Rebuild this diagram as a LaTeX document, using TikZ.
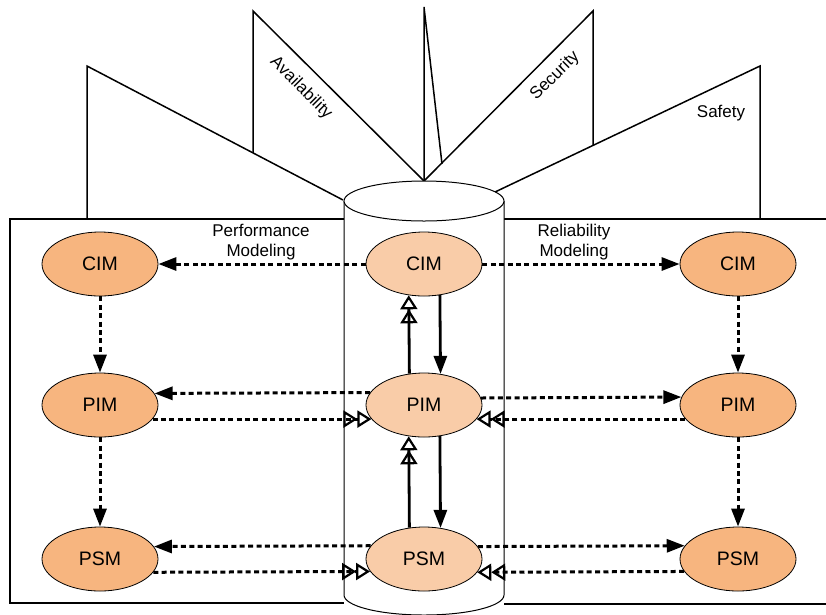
\documentclass[tikz,border=0pt]{standalone}
\usepackage{fontspec}
\setmainfont{Liberation Sans}
\usetikzlibrary{arrows.meta,shapes.geometric}
\definecolor{sideorange}{RGB}{247,181,127}
\definecolor{midorange}{RGB}{249,204,168}
\begin{document}
\begin{tikzpicture}[x=1pt,y=1pt,
  model/.style={ellipse,draw,line width=0.8pt,minimum width=116pt,minimum height=64pt,inner sep=0pt,font=\fontsize{19.5}{22}\selectfont},
  sidem/.style={model,fill=sideorange},
  midm/.style={model,fill=midorange},
  conn/.style={line width=3pt,dash pattern=on 5pt off 3.4pt},
  solidconn/.style={line width=2.8pt},
  fillhead/.style={-{Triangle[length=18pt,width=13pt]}},
  openhead/.style={-{Triangle[open,length=14pt,width=17pt,line width=2.2pt]Triangle[open,length=14pt,width=17pt,line width=2.2pt]}},
  frame/.style={line width=1.5pt},
  cyl/.style={line width=1pt},
  lbl/.style={font=\fontsize{17}{20}\selectfont,align=center}
]
\useasboundingbox (0,0) rectangle (826,-614);
% fan
\draw[frame] (87,-219) -- (87,-66) -- (343,-200);
\draw[frame] (253,-153) -- (253,-11) -- (424,-181);
\draw[frame] (424,-181) -- (424,-7) -- (442,-164);
\draw[frame] (593,-145) -- (593,-11) -- (424,-181);
\draw[frame] (760,-219) -- (760,-66) -- (495,-192);
% boxes
\draw[frame] (344,-219) -- (10,-219) -- (10,-603) -- (344,-603);
\draw[frame] (504,-219) -- (830,-219);
\draw[frame] (504,-604) -- (830,-604);
% cylinder
\draw[cyl,fill=white] (344,-201) -- (344,-595) arc[start angle=180,end angle=360,x radius=80,y radius=20] -- (504,-201);
\draw[cyl,fill=white] (424,-201) ellipse[x radius=80,y radius=20];
% labels
\node[lbl] (perf) at (261,-242) {Performance\\Modeling};
\node[lbl] (rel) at (574,-242) {Reliability\\Modeling};
\node[lbl,rotate=-45] (avail) at (301,-88) {Availability};
\node[lbl,rotate=45] (sec) at (555,-76) {Security};
\node[lbl] (safe) at (721,-113) {Safety};
% nodes
\node[sidem] (lcim) at (100,-264) {CIM};
\node[midm]  (ccim) at (424,-264) {CIM};
\node[sidem] (rcim) at (738,-264) {CIM};
\node[sidem] (lpim) at (100,-405) {PIM};
\node[midm]  (cpim) at (424,-405) {PIM};
\node[sidem] (rpim) at (738,-405) {PIM};
\node[sidem] (lpsm) at (100,-559) {PSM};
\node[midm]  (cpsm) at (424,-559) {PSM};
\node[sidem] (rpsm) at (738,-559) {PSM};
% CIM row
\draw[conn,fillhead] (ccim) -- (lcim);
\draw[conn,fillhead] (ccim) -- (rcim);
% side verticals
\draw[conn,fillhead] (lcim) -- (lpim);
\draw[conn,fillhead] (lpim) -- (lpsm);
\draw[conn,fillhead] (rcim) -- (rpim);
\draw[conn,fillhead] (rpim) -- (rpsm);
% PIM rows
\draw[conn,fillhead] (cpim.167.4) -- (lpim.12.6);
\draw[conn,openhead] (lpim.345) -- (cpim.195);
\draw[conn,fillhead] (cpim.7.05) -- (rpim.172.95);
\draw[conn,openhead] (rpim.195) -- (cpim.345);
% PSM rows
\draw[conn,fillhead] (cpsm.166.2) -- (lpsm.13.8);
\draw[conn,openhead] (lpsm.346.2) -- (cpsm.193.8);
\draw[conn,fillhead] (cpsm.13.8) -- (rpsm.166.2);
\draw[conn,openhead] (rpsm.193.8) -- (cpsm.346.2);
% center verticals
\draw[solidconn,fillhead] (ccim.297.5) -- (cpim.62.5);
\draw[solidconn,openhead] (cpim.115.9) -- (ccim.244.1);
\draw[solidconn,fillhead] (cpim.297.5) -- (cpsm.62.5);
\draw[solidconn,openhead] (cpsm.115.9) -- (cpim.244.1);
\end{tikzpicture}
\end{document}
